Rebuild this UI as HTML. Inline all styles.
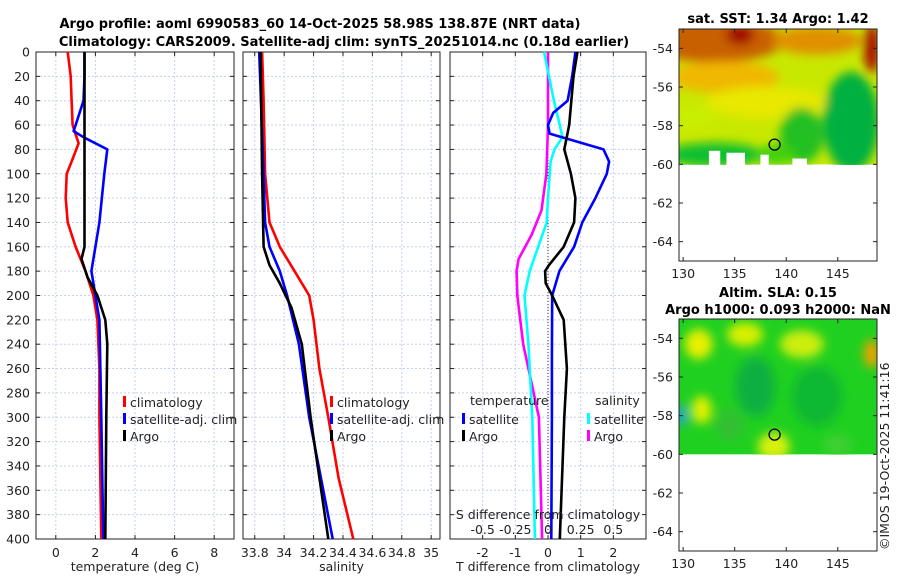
<!DOCTYPE html>
<html><head><meta charset="utf-8"><style>
body{margin:0;background:#fff;}
svg{display:block;font-family:"DejaVu Sans","Liberation Sans",sans-serif;}
</style></head><body>
<svg id="fig" width="900" height="580" viewBox="0 0 900 580" xmlns="http://www.w3.org/2000/svg">
<defs>
<filter id="bl" x="-20%" y="-20%" width="140%" height="140%"><feGaussianBlur stdDeviation="5"/></filter>
<clipPath id="c1"><rect x="679" y="29" width="198" height="136"/></clipPath>
<clipPath id="c2"><rect x="679" y="319" width="198" height="136"/></clipPath>
</defs>
<text x="320" y="28" text-anchor="middle" font-size="13" font-weight="bold">Argo profile: aoml 6990583_60 14-Oct-2025 58.98S 138.87E (NRT data)</text>
<text x="344" y="46" text-anchor="middle" font-size="13" font-weight="bold">Climatology: CARS2009. Satellite-adj clim: synTS_20251014.nc (0.18d earlier)</text>
<g id="maps"></g>
<g id="panels"></g>
<text transform="translate(889,550) rotate(-90)" font-size="12.5" fill="#222">©IMOS 19-Oct-2025 11:41:16</text>
</svg>
<script>
// ---- data ----
const depthClim = [0,20,40,60,75,90,100,120,140,160,180,200,220,260,300,400];
const tempClim  = [0.6,0.75,0.8,0.85,1.15,0.8,0.55,0.5,0.6,1.0,1.5,1.9,2.1,2.2,2.2,2.3];
const depthSat  = [0,20,40,55,65,70,80,100,140,160,180,200,220,300,400];
const tempSat   = [1.45,1.45,1.4,1.1,0.9,1.4,2.6,2.45,2.2,2.0,1.8,2.0,2.2,2.3,2.4];
const depthArgo = [0,40,80,120,160,170,185,200,220,240,300,400];
const tempArgo  = [1.45,1.45,1.45,1.45,1.45,1.3,1.6,2.1,2.5,2.6,2.55,2.5];
const salClimD  = [0,40,100,140,160,180,200,220,260,300,350,400];
const salClim   = [33.85,33.86,33.87,33.9,33.97,34.07,34.17,34.2,34.24,34.3,34.37,34.47];
const salSatD   = [0,100,140,160,180,200,240,300,400];
const salSat    = [33.83,33.86,33.87,33.9,33.97,34.02,34.1,34.17,34.33];
const salArgoD  = [0,100,160,175,190,210,240,300,400];
const salArgo   = [33.84,33.85,33.86,33.9,33.97,34.05,34.12,34.18,34.3];
const tdSatD    = [0,20,40,50,60,67,80,90,100,120,140,160,180,200,250,300,400];
const tdSat     = [0.84,0.74,0.6,0.16,0.0,0.05,1.7,1.87,1.8,1.45,1.05,0.8,0.35,0.13,0.12,0.12,0.1];
const tdArgoD   = [0,20,60,80,100,120,140,160,175,180,190,200,220,260,300,400];
const tdArgo    = [0.9,0.78,0.65,0.5,0.7,0.84,0.8,0.48,0.03,-0.09,-0.07,0.13,0.48,0.58,0.5,0.36];
const sdSatD    = [0,40,60,70,80,90,120,140,160,180,200,240,300,400];
const sdSat     = [-0.03,0.045,0.09,0.11,0.05,0.02,0,-0.01,-0.075,-0.14,-0.18,-0.15,-0.12,-0.1];
const sdArgoD   = [0,60,100,130,150,170,180,200,240,300,400];
const sdArgo    = [0,0,-0.012,-0.05,-0.125,-0.225,-0.24,-0.235,-0.19,-0.07,-0.045];
const depthTicks = [0,20,40,60,80,100,120,140,160,180,200,220,240,260,280,300,320,340,360,380,400];
const tempTicks = [0,2,4,6,8];
const salTicks = [33.8,34,34.2,34.4,34.6,34.8,35];
const tdTicks = [-2,-1,0,1,2];
const sdTicks = [-0.5,-0.25,0,0.25,0.5];
const lonTicks = [130,135,140,145];
const latTicks = [-54,-56,-58,-60,-62,-64];
const argoLon = 138.87, argoLat = -58.98;

const NS="http://www.w3.org/2000/svg";
function mk(tag, attrs, parent){const e=document.createElementNS(NS,tag);for(const k in attrs)e.setAttribute(k,attrs[k]);parent.appendChild(e);return e;}
const P=document.getElementById('panels');
const Y0=52,Y1=539;
const yS=d=>Y0+(d/400)*(Y1-Y0);

function panel(name,x0,x1,lo,hi,ticks,fmt,xlabel,showY){
  const g=mk('g',{},P);
  
  
  const xs=v=>x0+(v-lo)/(hi-lo)*(x1-x0);
  ticks.forEach(t=>{const l=mk('line',{x1:xs(t),x2:xs(t),y1:Y0,y2:Y1,stroke:'#c8cff0','stroke-width':1,'stroke-dasharray':'2,2'},g);
    });
  depthTicks.forEach(d=>{const l=mk('line',{x1:x0,x2:x1,y1:yS(d),y2:yS(d),stroke:'#c8cff0','stroke-width':1,'stroke-dasharray':'2,2'},g);
    
    mk('line',{x1:x0,x2:x0+4,y1:yS(d),y2:yS(d),stroke:'#222'},g);mk('line',{x1:x1,x2:x1-4,y1:yS(d),y2:yS(d),stroke:'#222'},g);
    if(showY){const t=mk('text',{x:x0-6,y:yS(d)+4.5,'text-anchor':'end','font-size':12.5,fill:'#222'},g);t.textContent=d;
      }
  });
  ticks.forEach(v=>{mk('line',{x1:xs(v),x2:xs(v),y1:Y1,y2:Y1-4,stroke:'#222'},g);mk('line',{x1:xs(v),x2:xs(v),y1:Y0,y2:Y0+4,stroke:'#222'},g);
    if(fmt){const t=mk('text',{x:xs(v),y:Y1+18,'text-anchor':'middle','font-size':12.5,fill:'#222'},g);t.textContent=fmt(v);
      }});
  const fr=mk('rect',{x:x0,y:Y0,width:x1-x0,height:Y1-Y0,fill:'none',stroke:'#222','stroke-width':1},g);
  
  const xl=mk('text',{x:(x0+x1)/2,y:571,'text-anchor':'middle','font-size':12.5,fill:'#222'},g);xl.textContent=xlabel;
  
  return {g,xs};
}
function line(p,ds,vs,color,name,scale){
  const pts=ds.map((d,i)=>p.xs(vs[i]*(scale||1)).toFixed(1)+','+yS(d).toFixed(1)).join(' ');
  const l=mk('polyline',{points:pts,fill:'none',stroke:color,'stroke-width':2.6,'stroke-linejoin':'round'},p.g);
  
}
function legend(g,x,y,items){
  items.forEach((it,i)=>{const yy=y+i*17;
    mk('rect',{x:x,y:yy-9,width:3,height:11,fill:it[1]},g);
    const t=mk('text',{x:x+7,y:yy+2,'font-size':12.5,fill:'#222'},g);t.textContent=it[0];
    });
}
const p1=panel('temperature-panel',36,234,-1,9,tempTicks,v=>v,'temperature (deg C)',true);
line(p1,depthClim,tempClim,'#ff0000','climatology-temp-line');
line(p1,depthSat,tempSat,'#0000ff','satellite-temp-line');
line(p1,depthArgo,tempArgo,'#000','argo-temp-line');
legend(p1.g,123,405,[['climatology','#ff0000'],['satellite-adj. clim','#0000ff'],['Argo','#000']]);

const p2=panel('salinity-panel',243,440,33.72,35.06,salTicks,v=>String(v),'salinity',false);
line(p2,salClimD,salClim,'#ff0000','climatology-salinity-line');
line(p2,salSatD,salSat,'#0000ff','satellite-salinity-line');
line(p2,salArgoD,salArgo,'#000','argo-salinity-line');
legend(p2.g,330,405,[['climatology','#ff0000'],['satellite-adj. clim','#0000ff'],['Argo','#000']]);

const p3=panel('difference-panel',450,646,-3,3,tdTicks,v=>v,'T difference from climatology',false);
const z=mk('line',{x1:p3.xs(0),x2:p3.xs(0),y1:Y0,y2:Y1,stroke:'#333','stroke-dasharray':'1,2'},p3.g);

line(p3,sdArgoD,sdArgo,'#ff00ff','argo-salinity-diff-line',4);
line(p3,sdSatD,sdSat,'#00ffff','satellite-salinity-diff-line',4);
line(p3,tdSatD,tdSat,'#0000ff','satellite-temp-diff-line');
line(p3,tdArgoD,tdArgo,'#000','argo-temp-diff-line');
sdTicks.forEach(v=>{const t=mk('text',{x:p3.xs(v*4),y:534,'text-anchor':'middle','font-size':12.5,fill:'#222'},p3.g);t.textContent=v;
  });
const st=mk('text',{x:548,y:519,'text-anchor':'middle','font-size':12.5,fill:'#222'},p3.g);st.textContent='S difference from climatology';

let t1=mk('text',{x:470,y:405,'font-size':12.5,fill:'#222'},p3.g);t1.textContent='temperature';
let t2=mk('text',{x:595,y:405,'font-size':12.5,fill:'#222'},p3.g);t2.textContent='salinity';
legend(p3.g,462,422,[['satellite','#0000ff'],['Argo','#000']]);
legend(p3.g,587,422,[['satellite','#00ffff'],['Argo','#ff00ff']]);

// ---- maps ----
const M=document.getElementById('maps');
function map(name,y0,y1,title1,title2,blobs,base,clip,holes){
  const g=mk('g',{},M);
  
  const x0=679,x1=877;
  const xs=v=>x0+(v-129.6)/(148.8-129.6)*(x1-x0);
  const ys=v=>y0+(-53-v)/12*(y1-y0);
  const cg=mk('g',{'clip-path':'url(#'+clip+')'},g);
  mk('rect',{x:x0,y:y0,width:x1-x0,height:ys(-60)-y0,fill:base},cg);
  const bg=mk('g',{filter:'url(#bl)'},cg);
  blobs.forEach(b=>mk('ellipse',{cx:xs(b[0]),cy:ys(b[1]),rx:b[2],ry:b[3],fill:b[4]},bg));
  (holes||[]).forEach(h=>mk('rect',{x:xs(h[0]),y:ys(h[1]),width:xs(h[2])-xs(h[0]),height:ys(-60)-ys(h[1])+1,fill:'#fff'},cg));
  mk('rect',{x:x0,y:y0,width:x1-x0,height:y1-y0,fill:'none',stroke:'#222'},g);
  latTicks.forEach(v=>{mk('line',{x1:x0,x2:x0+4,y1:ys(v),y2:ys(v),stroke:'#222'},g);mk('line',{x1:x1,x2:x1-4,y1:ys(v),y2:ys(v),stroke:'#222'},g);
    const t=mk('text',{x:x0-6,y:ys(v)+4.5,'text-anchor':'end','font-size':12.5,fill:'#222'},g);t.textContent=v;
    });
  lonTicks.forEach(v=>{mk('line',{x1:xs(v),x2:xs(v),y1:y1,y2:y1-4,stroke:'#222'},g);mk('line',{x1:xs(v),x2:xs(v),y1:y0,y2:y0+4,stroke:'#222'},g);
    const t=mk('text',{x:xs(v),y:y1+17,'text-anchor':'middle','font-size':12.5,fill:'#222'},g);t.textContent=v;
    });
  const c=mk('circle',{cx:xs(argoLon),cy:ys(argoLat),r:5.5,fill:'none',stroke:'#000','stroke-width':1.3},g);
  
  const a=mk('text',{x:778,y:y0-(title2?22:6),'text-anchor':'middle','font-size':13,'font-weight':'bold'},g);a.textContent=title1;
  
  if(title2){const b=mk('text',{x:778,y:y0-5,'text-anchor':'middle','font-size':13,'font-weight':'bold'},g);b.textContent=title2;
    }
}
map('sst-map',29,261,'sat. SST: 1.34 Argo: 1.42',null,[
 [133,-53.6,70,22,'#c86000'],[143,-53.6,45,14,'#e09000'],[148.3,-54,8,25,'#a81000'],[135.5,-53.3,14,10,'#a00000'],
 [134,-55.5,55,16,'#f0b800'],[138,-56.8,60,16,'#e8e800'],[131,-57.6,22,12,'#c8ee00'],
 [146.3,-57.8,28,50,'#00b040'],[141.5,-58.5,22,28,'#20c020'],[133,-59.5,50,12,'#10c030'],[139,-59.5,20,10,'#40d010']
],'#c8e800','c1',[[132.5,-59.3,133.6],[134.2,-59.4,136],[137.5,-59.5,138.3],[140.6,-59.7,142]]);
map('sla-map',319,551,'Altim. SLA: 0.15','Argo h1000: 0.093 h2000: NaN',[
 [131.5,-54.3,14,15,'#e8f000'],[136,-53.8,18,12,'#d8f000'],[141.5,-54.3,22,14,'#ccee10'],[148.3,-54.8,8,14,'#f0a000'],
 [131.8,-57.7,10,14,'#e0f000'],[138.8,-59.6,16,14,'#d8f010'],[129.8,-58,6,10,'#20a0e0'],
 [137,-56.5,20,30,'#10b040'],[143,-57,25,30,'#10b830'],[134.5,-58.5,14,16,'#30c030'],[145,-59.5,14,10,'#40d030']
],'#20d020','c2');
</script>
</body></html>
